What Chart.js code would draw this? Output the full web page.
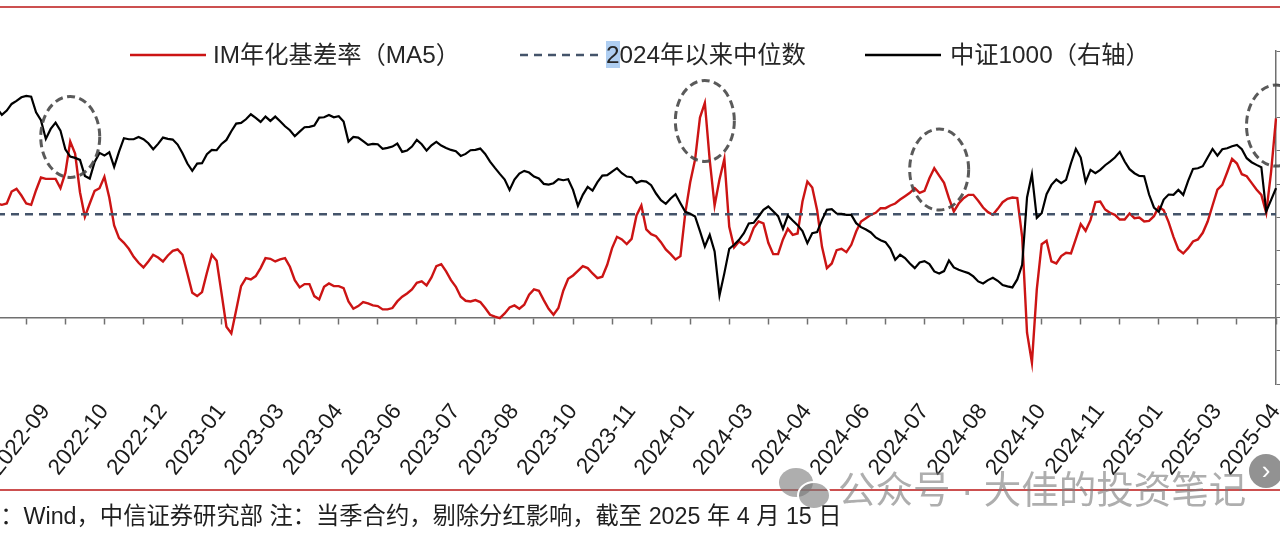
<!DOCTYPE html>
<html lang="zh-CN">
<head>
    <meta charset="utf-8" />
    <title>IM年化基差率与中证1000</title>
    <script src="https://cdn.jsdelivr.net/npm/chart.js"></script>
    <style>
        html, body {
            margin: 0;
            padding: 0;
            width: 1280px;
            height: 544px;
            overflow: hidden;
            background: #fff;
            font-family: "Liberation Sans", "Noto Sans CJK SC", sans-serif;
            color: #262626;
        }

        .rule {
            position: absolute;
            left: 0;
            width: 1280px;
            height: 2px;
            background: #cc5050;
        }

        #chart-box {
            position: absolute;
            left: -13px;
            top: 0;
            width: 1349px;
            height: 484px;
        }

        .key {
            position: absolute;
            top: 52px;
        }

        .legend-text {
            position: absolute;
            top: 42px;
            font-size: 24.3px;
            line-height: 26px;
            white-space: nowrap;
        }

        .picked {
            background: rgba(110, 165, 230, 0.55);
        }

        #source {
            position: absolute;
            left: -93px;
            top: 503px;
            font-size: 23.3px;
            line-height: 26px;
            white-space: nowrap;
            color: #1f1f1f;
        }

        #watermark {
            position: absolute;
            left: 838px;
            top: 468px;
            font-size: 37.5px;
            line-height: 44px;
            white-space: nowrap;
            color: rgba(120, 120, 120, 0.6);
        }

        .bubble {
            position: absolute;
            border-radius: 50%;
            background: rgba(120, 120, 120, 0.6);
        }

        #next {
            position: absolute;
            left: 1249px;
            top: 454px;
            width: 34px;
            height: 34px;
            border-radius: 50%;
            background: rgba(110, 110, 110, 0.75);
            color: #fff;
            font-size: 26px;
            line-height: 32px;
            text-align: center;
        }
    </style>
</head>
<body>
    <div class="rule" style="top:6px"></div>

    <div id="chart-box">
        <canvas id="basisChart"></canvas>
    </div>

    <!-- legend -->
    <svg class="key" style="left:130px" width="76" height="6"><line x1="0" y1="3" x2="76" y2="3" stroke="#cc1414" stroke-width="2.5"/></svg>
    <span class="legend-text" style="left:213px">IM年化基差率（MA5）</span>
    <svg class="key" style="left:520px" width="80" height="6"><line x1="0" y1="3" x2="80" y2="3" stroke="#44546a" stroke-width="2.5" stroke-dasharray="8 6"/></svg>
    <span class="legend-text" style="left:606px"><span class="picked">2</span>024年以来中位数</span>
    <svg class="key" style="left:865px" width="76" height="6"><line x1="0" y1="3" x2="76" y2="3" stroke="#000" stroke-width="2.5"/></svg>
    <span class="legend-text" style="left:950px">中证1000（右轴）</span>

    <div class="rule" style="top:489px;height:1.5px"></div>

    <div class="bubble" style="left:779px;top:468px;width:34px;height:29px"></div>
    <div class="bubble" style="left:797px;top:481px;width:30px;height:25px;border:2px solid #fff"></div>
    <div id="watermark">公众号 · 大佳的投资笔记</div>
    <div id="next">›</div>

    <div id="source">资料来源：Wind，中信证券研究部 注：当季合约，剔除分红影响，截至 2025 年 4 月 15 日</div>

    <script>
        // axis labels, one every 12 points counted back from the last point
        var tickLabels = ['2022-09', '2022-10', '2022-12', '2023-01', '2023-03', '2023-04', '2023-06', '2023-07',
            '2023-08', '2023-10', '2023-11', '2024-01', '2024-03', '2024-04', '2024-06', '2024-07',
            '2024-08', '2024-10', '2024-11', '2025-01', '2025-03', '2025-04'];

        // IM annualised basis rate, MA5 (%), left axis
        var imBasis = [
            17.1, 16.9, 17.1, 18.9, 19.3, 18.3, 17.1, 16.9, 19.1, 21.0,
            20.8, 20.8, 20.8, 19.4, 21.7, 26.4, 24.6, 18.8, 15.1, 17.1,
            19.0, 19.4, 21.1, 18.0, 13.8, 11.9, 11.2, 10.3, 9.1, 8.2,
            7.5, 8.4, 9.4, 9.0, 8.4, 9.3, 10.0, 10.2, 9.4, 6.6,
            3.7, 3.2, 3.8, 6.7, 9.4, 8.5, 3.6, -1.4, -2.4, 1.1,
            4.7, 5.9, 5.7, 6.2, 7.4, 8.9, 8.8, 8.4, 8.7, 8.9,
            7.6, 5.6, 4.5, 5.0, 5.0, 3.2, 2.7, 4.6, 5.1, 4.7,
            4.7, 4.4, 2.4, 1.3, 1.7, 2.3, 2.1, 1.8, 1.7, 1.2,
            1.2, 1.4, 2.4, 3.1, 3.6, 4.2, 5.2, 5.4, 4.8, 6.0,
            7.7, 8.0, 6.9, 5.6, 4.6, 3.1, 2.5, 2.4, 2.6, 2.3,
            1.4, 0.4, 0.1, -0.1, 0.6, 1.5, 1.8, 1.3, 1.9, 3.4,
            4.2, 4.0, 2.6, 1.3, 0.4, 1.4, 4.0, 5.8, 6.3, 7.0,
            7.7, 7.4, 6.6, 5.9, 6.1, 7.9, 10.4, 12.1, 11.7, 11.0,
            11.8, 15.3, 16.8, 13.2, 12.5, 12.2, 11.3, 10.2, 9.5, 8.7,
            9.2, 15.7, 20.3, 23.7, 30.0, 32.2, 23.6, 16.8, 20.7, 23.8,
            13.6, 10.5, 11.4, 10.9, 11.5, 13.4, 14.4, 14.1, 11.2, 9.5,
            9.5, 11.7, 13.3, 12.4, 12.6, 17.4, 20.4, 19.5, 16.1, 10.6,
            7.4, 8.1, 10.1, 10.3, 9.8, 10.9, 12.9, 14.4, 14.9, 15.4,
            15.7, 16.4, 16.4, 16.8, 17.1, 17.7, 18.2, 18.7, 19.4, 18.7,
            19.0, 20.9, 22.4, 21.3, 20.2, 17.9, 15.9, 17.1, 17.9, 18.4,
            18.4, 17.5, 16.5, 15.8, 15.4, 16.3, 17.3, 17.8, 18.0, 17.9,
            12.1, -2.3, -6.8, 4.2, 11.0, 11.5, 8.4, 8.1, 9.2, 9.7,
            9.6, 11.8, 14.0, 13.0, 14.6, 17.3, 17.4, 16.2, 15.7, 15.4,
            14.7, 14.7, 15.6, 14.9, 15.0, 14.4, 14.5, 15.2, 16.6, 16.1,
            14.3, 12.1, 10.2, 9.6, 10.4, 11.4, 11.7, 12.7, 14.4, 16.8,
            19.2, 19.9, 21.8, 23.8, 23.1, 21.5, 21.2, 20.2, 19.2, 18.4,
            15.7, 21.9, 29.9
        ];

        // CSI 1000 index, right axis
        var csi1000 = [
            7140, 7040, 7105, 7205, 7250, 7305, 7325, 7315, 7080, 6960,
            6680, 6830, 6925, 6805, 6525, 6415, 6395, 6365, 6125, 6085,
            6335, 6470, 6430, 6480, 6260, 6490, 6690, 6675, 6675, 6710,
            6675, 6615, 6525, 6605, 6700, 6680, 6670, 6595, 6465, 6310,
            6200, 6310, 6315, 6450, 6515, 6510, 6605, 6665, 6795, 6910,
            6920, 6975, 7050, 6995, 6935, 7015, 6950, 7015, 6945, 6870,
            6810, 6720, 6790, 6855, 6860, 6880, 7000, 7005, 7040, 7005,
            7020, 6940, 6640, 6710, 6700, 6645, 6590, 6605, 6600, 6530,
            6545, 6565, 6610, 6485, 6505, 6565, 6665, 6600, 6505, 6585,
            6635, 6580, 6545, 6515, 6495, 6425, 6455, 6510, 6515, 6535,
            6455, 6340, 6245, 6155, 6070, 5915, 6070, 6160, 6200, 6175,
            6115, 6085, 6005, 5995, 6015, 6075, 6060, 6075, 5915, 5675,
            5840, 5960, 5905, 6030, 6130, 6135, 6190, 6240, 6165, 6115,
            6105, 6020, 6050, 6040, 5985, 5860, 5760, 5705, 5785, 5850,
            5715, 5585, 5555, 5515, 5295, 5065, 5240, 4990, 4330, 4665,
            5030, 5090, 5165, 5265, 5410, 5420, 5515, 5615, 5665, 5595,
            5520, 5330, 5530, 5455, 5385, 5295, 5115, 5265, 5280, 5465,
            5615, 5625, 5560, 5555, 5540, 5540, 5415, 5355, 5320, 5275,
            5200, 5160, 5130, 5035, 4865, 4940, 4890, 4810, 4740, 4825,
            4845, 4800, 4690, 4660, 4695, 4855, 4750, 4715, 4690, 4665,
            4615, 4540, 4510, 4560, 4595, 4550, 4485, 4465, 4450, 4570,
            4790, 5800, 6150, 5495, 5565, 5850, 5990, 6070, 6015, 6065,
            6315, 6530, 6400, 6035, 6215, 6165, 6215, 6285, 6340, 6400,
            6485, 6340, 6225, 6165, 6125, 6120, 5845, 5650, 5585, 5770,
            5845, 5840, 5915, 5840, 6050, 6230, 6240, 6270, 6400, 6530,
            6430, 6525, 6540, 6570, 6590, 6525, 6390, 6330, 6290, 6255,
            5590, 5765, 5940
        ];

        // median of the basis rate since 2024 (%)
        var medianSince2024 = 15.5;

        // peaks that are ringed: point index and basis level of the ring centre
        var ringAt = [15, 145, 193, 262];
        var ringLevel = [27.1, 29.5, 22.2, 28.8];

        var lastIdx = imBasis.length - 1;
        var labelEvery = 12;
        var markEvery = 8;
        var firstLabel = lastIdx % labelEvery;
        var categories = imBasis.map(function (v, j) {
            return (lastIdx - j) % labelEvery === 0 ? tickLabels[(j - firstLabel) / labelEvery] : '';
        });

        var axisGray = '#707070';

        var peakRings = {
            id: 'peakRings',
            afterDatasetsDraw: function (chart) {
                var ctx = chart.ctx;
                var x = chart.scales.x, y = chart.scales.y;
                ctx.save();
                ctx.strokeStyle = 'rgba(72,72,72,0.9)';
                ctx.lineWidth = 3;
                ctx.setLineDash([8, 4.5]);
                for (var k = 0; k < ringAt.length; k++) {
                    ctx.beginPath();
                    ctx.ellipse(x.getPixelForValue(ringAt[k]), y.getPixelForValue(ringLevel[k]), 29.5, 40.5, 0, 0, Math.PI * 2);
                    ctx.stroke();
                }
                ctx.restore();
            }
        };

        Chart.defaults.font.family = '"Liberation Sans", "Noto Sans CJK SC", sans-serif';
        Chart.defaults.color = '#1a1a1a';

        var ctx = document.getElementById('basisChart').getContext('2d');
        var basisChart = new Chart(ctx, {
            type: 'line',
            data: {
                labels: categories,
                datasets: [{
                    label: '中证1000（右轴）',
                    data: csi1000,
                    yAxisID: 'y1',
                    borderColor: '#000000',
                    borderWidth: 2.2,
                    order: 0
                }, {
                    label: '2024年以来中位数',
                    data: categories.map(function () { return medianSince2024; }),
                    yAxisID: 'y',
                    borderColor: '#44546a',
                    borderWidth: 2.5,
                    borderDash: [8, 6],
                    order: 1
                }, {
                    label: 'IM年化基差率（MA5）',
                    data: imBasis,
                    yAxisID: 'y',
                    borderColor: '#cc1414',
                    borderWidth: 2.4,
                    order: 2
                }]
            },
            options: {
                responsive: true,
                maintainAspectRatio: false,
                animation: false,
                layout: { padding: { left: 10, top: 51, right: 0, bottom: 0 } },
                elements: { point: { radius: 0 }, line: { tension: 0 } },
                plugins: { legend: { display: false }, tooltip: { enabled: false } },
                scales: {
                    x: {
                        type: 'category',
                        grid: { display: false },
                        border: { display: false },
                        ticks: {
                            autoSkip: false,
                            minRotation: 52,
                            maxRotation: 52,
                            padding: 7,
                            font: { size: 22.5 },
                            color: '#1a1a1a'
                        },
                        afterFit: function (scale) { scale.height = 100; }
                    },
                    // zero line with its tick marks
                    x2: {
                        type: 'category',
                        position: { y: 0 },
                        grid: {
                            drawOnChartArea: false,
                            drawTicks: true,
                            tickLength: 6,
                            tickWidth: 1.5,
                            tickColor: function (c) {
                                return (lastIdx - c.index) % markEvery === 0 ? axisGray : 'rgba(0,0,0,0)';
                            }
                        },
                        border: { display: true, color: axisGray, width: 1.5 },
                        ticks: { display: false, autoSkip: false }
                    },
                    y: {
                        display: false,
                        min: -10,
                        max: 40
                    },
                    y1: {
                        position: 'right',
                        min: 3000,
                        max: 8000,
                        ticks: { stepSize: 500, font: { size: 20 } },
                        grid: { drawOnChartArea: false, tickLength: 5, color: axisGray },
                        border: { color: axisGray, width: 1.5 },
                        afterFit: function (scale) { scale.width = 60; }
                    }
                }
            },
            plugins: [peakRings]
        });
    </script>
</body>
</html>
